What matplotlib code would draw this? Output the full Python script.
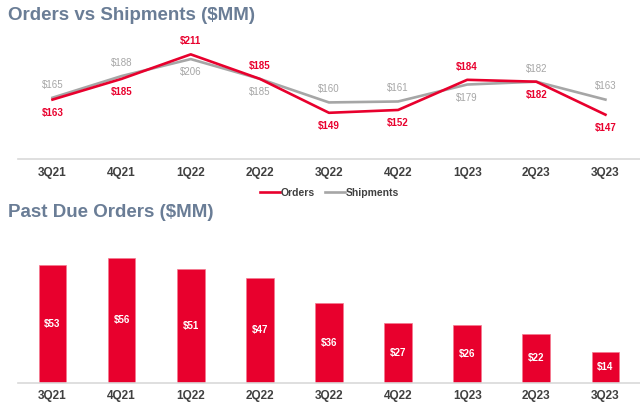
import matplotlib
matplotlib.use("Agg")
import matplotlib.pyplot as plt
import numpy as np

plt.rcParams['font.family'] = ['Liberation Sans', 'DejaVu Sans']

quarters = ['3Q21', '4Q21', '1Q22', '2Q22', '3Q22', '4Q22', '1Q23', '2Q23', '3Q23']
orders = [163, 185, 211, 185, 149, 152, 184, 182, 147]
shipments = [165, 188, 206, 185, 160, 161, 179, 182, 163]
past_due = [53, 56, 51, 47, 36, 27, 26, 22, 14]

# +1 means label above the point, -1 below
orders_pos = [-1, -1, 1, 1, -1, -1, 1, -1, -1]
ship_pos = [1, 1, -1, -1, 1, 1, -1, 1, 1]

red = '#E8002D'
grey = '#A6A6A6'
title_col = '#6A7D96'
tick_col = '#404040'

x = np.arange(len(quarters))

fig = plt.figure(figsize=(6.4, 4.03), dpi=100)

# ---- top: orders vs shipments
ax1 = fig.add_axes([0.028, 0.6055, 0.972, 0.29])
ax1.plot(x, shipments, color=grey, lw=1.9, label='Shipments', zorder=2)
ax1.plot(x, orders, color=red, lw=1.9, label='Orders', zorder=3)
for i in range(len(x)):
    ax1.annotate(f'${orders[i]}', (x[i], orders[i]), xytext=(0, 9.5 * orders_pos[i]),
                 textcoords='offset points', ha='center', va='center',
                 color=red, fontsize=7, fontweight='bold')
    ax1.annotate(f'${shipments[i]}', (x[i], shipments[i]), xytext=(0, 9.5 * ship_pos[i]),
                 textcoords='offset points', ha='center', va='center',
                 color=grey, fontsize=7)
ax1.set_xlim(-0.5, 8.5)
ax1.set_ylim(100, 224)
ax1.set_xticks(x)
ax1.set_xticklabels(quarters)
ax1.set_yticks([])
for s in ['top', 'right', 'left']:
    ax1.spines[s].set_visible(False)
ax1.spines['bottom'].set_color('#D9D9D9')
ax1.spines['bottom'].set_linewidth(1.2)
ax1.tick_params(axis='x', length=0, pad=6, labelsize=8.5, labelcolor=tick_col)
for t in ax1.get_xticklabels():
    t.set_fontweight('bold')

h, l = ax1.get_legend_handles_labels()
leg = fig.legend(h[::-1], l[::-1], loc='center', bbox_to_anchor=(0.515, 0.521), ncol=2,
                 frameon=False, fontsize=7.5, handlelength=1.9, handletextpad=0.1,
                 columnspacing=1.0)
for t in leg.get_texts():
    t.set_color(tick_col)
    t.set_fontweight('bold')

fig.text(0.012, 0.962, 'Orders vs Shipments ($MM)', color=title_col, fontsize=13.5,
         fontweight='bold', ha='left', va='center')

# ---- bottom: past due orders
ax2 = fig.add_axes([0.028, 0.0496, 0.972, 0.355])
bars = ax2.bar(x, past_due, width=0.4, color=red, edgecolor='#F47A90', linewidth=0.5)
for i, b in enumerate(bars):
    ax2.text(b.get_x() + b.get_width() / 2, past_due[i] / 2, f'${past_due[i]}',
             ha='center', va='center', color='white', fontsize=7, fontweight='bold')
ax2.set_xlim(-0.5, 8.5)
ax2.set_ylim(0, 64)
ax2.set_xticks(x)
ax2.set_xticklabels(quarters)
ax2.set_yticks([])
for s in ['top', 'right', 'left']:
    ax2.spines[s].set_visible(False)
ax2.spines['bottom'].set_color('#D9D9D9')
ax2.spines['bottom'].set_linewidth(1.2)
ax2.tick_params(axis='x', length=0, pad=5, labelsize=8.5, labelcolor=tick_col)
for t in ax2.get_xticklabels():
    t.set_fontweight('bold')

fig.text(0.012, 0.473, 'Past Due Orders ($MM)', color=title_col, fontsize=13.5,
         fontweight='bold', ha='left', va='center')

fig.savefig('out.png', dpi=100)
